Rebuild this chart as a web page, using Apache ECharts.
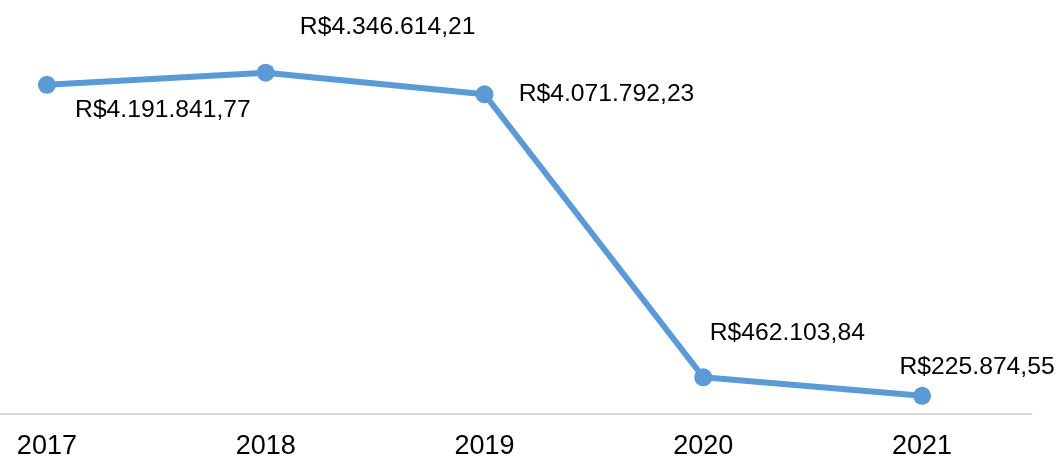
<!DOCTYPE html>
<html>
<head>
<meta charset="utf-8">
<script src="https://cdn.jsdelivr.net/npm/echarts@6/dist/echarts.min.js"></script>
<style>
  html, body { margin: 0; padding: 0; background: #fff; }
  #main { width: 1058px; height: 456px; }
</style>
</head>
<body>
<div id="main"></div>
<script>
// dados
var anos = ["2017", "2018", "2019", "2020", "2021"]
var valores = [4191841.77, 4346614.21, 4071792.23, 462103.84, 225874.55]
// deslocamento dos rótulos em relação ao ponto
var rotuloOffset = [[116, 25], [122, -46], [122, 0], [84, -44], [55, -29]]

function fmtBRL(v) {
  var parts = v.toFixed(2).split(".")
  var inteiro = parts[0].replace(/\B(?=(\d{3})+(?!\d))/g, ".")
  return "R$" + inteiro + "," + parts[1]
}

var chartDom = document.getElementById("main")
var myChart = echarts.init(chartDom)
var option = {
  animation: false,
  grid: {
    left: -62.5,
    right: 26.5,
    top: 21.5,
    bottom: 42.5,
    outerBoundsMode: "none"
  },
  xAxis: {
    type: "category",
    data: anos,
    boundaryGap: true,
    axisLine: { lineStyle: { color: "#d9d9d9", width: 2 } },
    axisTick: { show: false },
    axisLabel: {
      color: "#000",
      fontSize: 27,
      fontFamily: "Liberation Sans",
      margin: 19.5
    }
  },
  yAxis: {
    type: "value",
    min: 0,
    max: 5000000,
    show: false
  },
  series: [
    {
      type: "line",
      data: valores.map(function (v, i) {
        return {
          value: v,
          label: { offset: rotuloOffset[i] }
        }
      }),
      symbol: "circle",
      symbolSize: 18,
      lineStyle: { color: "#5b9bd5", width: 6 },
      itemStyle: { color: "#5b9bd5" },
      label: {
        show: true,
        position: "inside",
        align: "center",
        verticalAlign: "middle",
        color: "#000",
        fontSize: 24.7,
        fontFamily: "Liberation Sans",
        formatter: function (p) {
          return fmtBRL(p.value)
        }
      }
    }
  ]
}
option && myChart.setOption(option)
</script>
</body>
</html>
